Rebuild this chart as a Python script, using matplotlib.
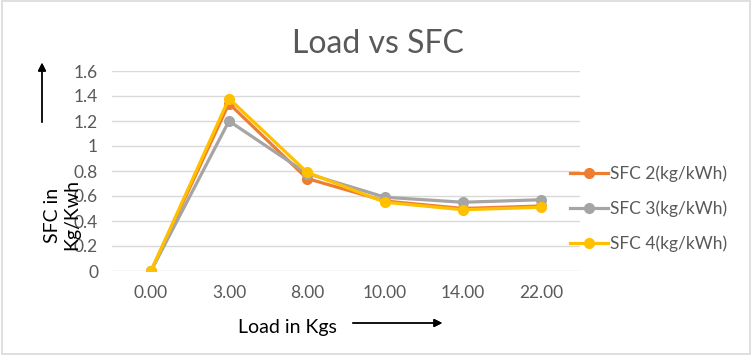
import matplotlib.pyplot as plt
from matplotlib.patches import Rectangle

# data
loads = ['0.00', '3.00', '8.00', '10.00', '14.00', '22.00']
sfc2 = [0, 1.34, 0.74, 0.56, 0.50, 0.52]
sfc3 = [0, 1.20, 0.78, 0.59, 0.55, 0.57]
sfc4 = [0, 1.38, 0.79, 0.55, 0.49, 0.51]
names = ['SFC 2(kg/kWh)', 'SFC 3(kg/kWh)', 'SFC 4(kg/kWh)']
colors = ['#ED7D31', '#A5A5A5', '#FFC000']

plt.rcParams['font.family'] = ['Lato', 'DejaVu Sans']
txt = '#595959'

fig = plt.figure(figsize=(7.52, 3.55), dpi=100)
ax = fig.add_axes([112 / 752, 1 - 271 / 355, 468 / 752, 200 / 355])

x = range(len(loads))
for ys, name, c in zip([sfc2, sfc3, sfc4], names, colors):
    ax.plot(x, ys, color=c, lw=2.3, marker='o', ms=7, label=name)

ax.set_xlim(-0.5, len(loads) - 0.5)
ax.set_ylim(0, 1.6)
ax.set_yticks([0, 0.2, 0.4, 0.6, 0.8, 1, 1.2, 1.4, 1.6])
ax.set_yticklabels(['0', '0.2', '0.4', '0.6', '0.8', '1', '1.2', '1.4', '1.6'])
ax.set_xticks(list(x))
ax.set_xticklabels(loads)
ax.tick_params(length=0, labelsize=12.5, colors=txt, pad=10)
ax.grid(axis='y', color='#D9D9D9', lw=1)
ax.set_axisbelow(True)
for s in ax.spines.values():
    s.set_visible(False)

ax.legend(loc='center left', bbox_to_anchor=((570 - 112) / 468, 0.31), frameon=False,
          fontsize=12.5, labelcolor=txt, handlelength=2.2, handletextpad=0.1,
          labelspacing=1.05, borderaxespad=0, borderpad=0)

fig.text(378 / 752, 1 - 44 / 355, 'Load vs SFC', ha='center', va='center',
         fontsize=23, color=txt)

# axis titles with arrows
fig.text(62 / 752, 1 - 215 / 355, 'SFC in\nKg/Kwh', rotation=90, ha='center',
         va='center', fontsize=14, linespacing=1.15)
fig.text(287 / 752, 1 - 327 / 355, 'Load in Kgs', ha='center', va='center',
         fontsize=14)
fig.add_artist(plt.annotate('', xy=(42 / 752, 1 - 60 / 355), xytext=(42 / 752, 1 - 125 / 355),
                            xycoords='figure fraction',
                            arrowprops=dict(arrowstyle='-|>', color='black', lw=1, mutation_scale=12)))
fig.add_artist(plt.annotate('', xy=(445 / 752, 1 - 323 / 355), xytext=(350 / 752, 1 - 323 / 355),
                            xycoords='figure fraction',
                            arrowprops=dict(arrowstyle='-|>', color='black', lw=1, mutation_scale=12)))

fig.add_artist(Rectangle((0.002, 0.003), 0.995, 0.993, transform=fig.transFigure,
                         fill=False, edgecolor='#D9D9D9', lw=1.2))

fig.savefig('out.png', dpi=100)
